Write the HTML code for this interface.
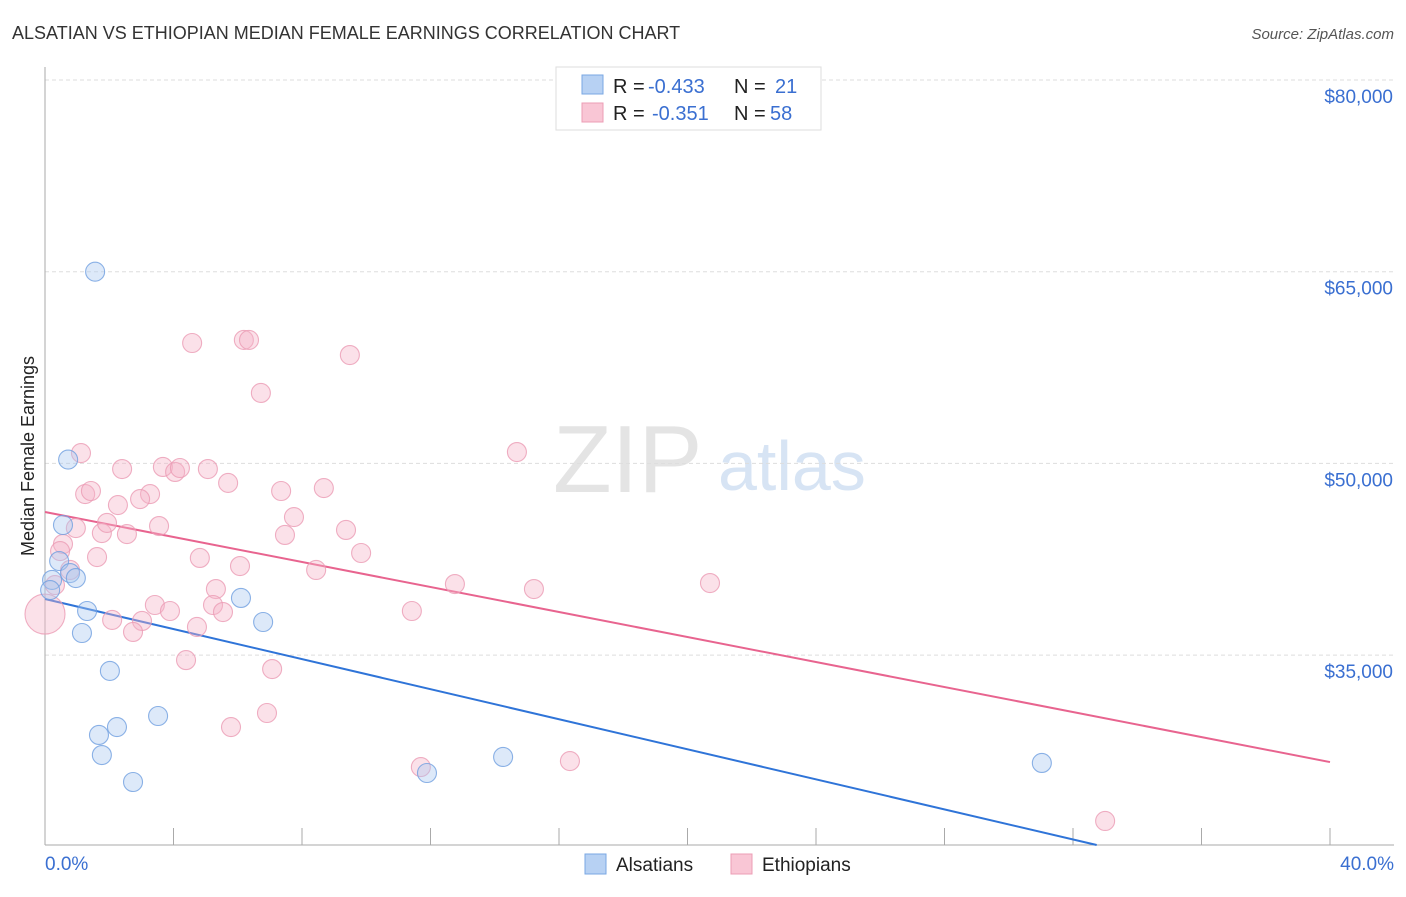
<!DOCTYPE html>
<html><head><meta charset="utf-8"><style>
body{margin:0;background:#fff;font-family:"Liberation Sans",sans-serif;}
svg text{font-family:"Liberation Sans",sans-serif;}
</style></head><body>
<svg id="chart" width="1406" height="892" viewBox="0 0 1406 892" xmlns="http://www.w3.org/2000/svg">
<text x="12" y="39" font-size="18" fill="#333">ALSATIAN VS ETHIOPIAN MEDIAN FEMALE EARNINGS CORRELATION CHART</text>
<text x="1394" y="39" font-size="15" fill="#555" font-style="italic" text-anchor="end">Source: ZipAtlas.com</text>
<g>
<text x="553" y="492" font-size="96" fill="#e4e4e4" font-family="Liberation Serif, serif">ZIP</text>
<text x="718" y="490" font-size="70" fill="#d7e4f4">atlas</text>
</g>
<g id="grid"></g>
<g id="axes"></g>
<g id="lines"></g>
<g id="points"></g>
<text transform="translate(34,456) rotate(-90)" font-size="18" fill="#222" text-anchor="middle">Median Female Earnings</text>
<g>
<rect x="556" y="67" width="265" height="63" fill="#fff" stroke="#ddd"/>
<rect x="582" y="75" width="21" height="19" fill="#b7d1f3" stroke="#7aa7e3"/>
<rect x="582" y="103" width="21" height="19" fill="#f9c6d5" stroke="#ec9db5"/>
<text x="613" y="93" font-size="20" fill="#222">R =</text>
<text x="648" y="93" font-size="20" fill="#3a6fd1">-0.433</text>
<text x="734" y="93" font-size="20" fill="#222">N =</text>
<text x="775" y="93" font-size="20" fill="#3a6fd1">21</text>
<text x="613" y="120" font-size="20" fill="#222">R =</text>
<text x="652" y="120" font-size="20" fill="#3a6fd1">-0.351</text>
<text x="734" y="120" font-size="20" fill="#222">N =</text>
<text x="770" y="120" font-size="20" fill="#3a6fd1">58</text>
</g>
<g>
<rect x="585" y="854" width="21" height="20" fill="#b7d1f3" stroke="#7aa7e3"/>
<text x="616" y="871" font-size="19" fill="#222">Alsatians</text>
<rect x="731" y="854" width="21" height="20" fill="#f9c6d5" stroke="#ec9db5"/>
<text x="762" y="871" font-size="19" fill="#222">Ethiopians</text>
</g>
</svg>
<script>
const yTicks=[80000,65000,50000,35000];
const xTickLabels=["0.0%","40.0%"];
const alsX=[1.56,0.72,0.56,0.44,0.22,0.16,0.78,0.96,1.31,1.15,2.02,2.24,1.68,1.77,2.74,3.52,6.10,6.79,11.89,14.26,31.03];
const alsY=[65000,50300,45180,42360,40880,40090,41420,41030,38450,36730,33760,29370,28750,27180,25070,30235,39470,37590,25775,27030,26560];
const ethX=[0,1.12,2.40,3.67,4.05,4.20,5.07,4.58,6.19,6.35,6.72,9.49,14.69,1.25,1.43,3.27,2.96,2.27,5.70,7.35,8.68,0.96,1.77,1.93,2.55,3.55,0.56,0.47,1.62,4.82,6.07,7.47,7.75,9.37,9.84,8.44,12.76,15.22,20.70,5.32,5.23,5.54,3.42,3.89,2.09,3.02,2.74,4.73,11.42,4.39,7.07,5.79,6.91,11.70,16.34,33.00,0.78,0.31];
const ethY=[38210,50810,49560,49720,49330,49640,49560,59420,59660,59660,55510,58480,50890,47600,47840,47600,47210,46740,48470,47840,48070,44940,44550,45340,44470,45100,43690,43140,42670,42600,41970,44400,45800,44790,42990,41660,40560,40170,40640,40170,38920,38370,38920,38450,37750,37670,36810,37200,38450,34610,33910,29370,30470,26240,26710,22020,41660,40480];
const alsTrend=[39390,15870];
const ethTrend=[46200,26630];
const X0=45,X1=1330,YB=845;
function sx(p){return X0+(p/40)*(X1-X0);}
function sy(v){return 80+(80000-v)*(191.7/15000);}
const NS="http://www.w3.org/2000/svg";
function mk(tag,attrs,parent){const e=document.createElementNS(NS,tag);for(const k in attrs)e.setAttribute(k,attrs[k]);parent.appendChild(e);return e;}
const grid=document.getElementById('grid'),axes=document.getElementById('axes'),lines=document.getElementById('lines'),pts=document.getElementById('points');
yTicks.forEach(v=>{
 const l=mk('line',{x1:X0,x2:1394,y1:sy(v),y2:sy(v),stroke:'#ddd','stroke-dasharray':'4,3'},grid);
 
 
 const t=mk('text',{x:1393,y:sy(v)+23,'font-size':19,fill:'#3a6fd1','text-anchor':'end'},grid);
 t.textContent='$'+v.toLocaleString('en-US');
 
 
});
const ya=mk('line',{x1:X0,x2:X0,y1:67,y2:YB,stroke:'#aaa'},axes);


const xa=mk('line',{x1:X0,x2:1394,y1:YB,y2:YB,stroke:'#aaa'},axes);


for(let i=0;i<=10;i++){
 const tk=mk('line',{x1:sx(i*4),x2:sx(i*4),y1:828,y2:YB,stroke:'#aaa'},axes);
 
 
}
const xl0=mk('text',{x:45,y:870,'font-size':19,fill:'#3a6fd1'},axes);xl0.textContent=xTickLabels[0];


const xl1=mk('text',{x:1394,y:870,'font-size':19,fill:'#3a6fd1','text-anchor':'end'},axes);xl1.textContent=xTickLabels[1];


function dots(xs,ys,fill,stroke,name){
 xs.forEach((x,i)=>{
  const big=(name==='ethiopian-point'&&x===0);
  const c=mk('circle',{cx:sx(x),cy:sy(ys[i]),r:big?20:9.5,fill:fill,'fill-opacity':0.4,stroke:stroke,'stroke-opacity':0.8,'stroke-width':1.1},pts);
  
  
 });
}
dots(ethX,ethY,'#f5b3c7','#eb9bb4','ethiopian-point');
dots(alsX,alsY,'#a9c8f0','#6f9fe0','alsatian-point');
function trend(tr,color,name){
 let x2=40,v2=tr[1];
 const vb=80000-(YB-80)/(191.7/15000);
 if(v2<vb){x2=40*(tr[0]-vb)/(tr[0]-tr[1]);v2=vb;}
 const l=mk('line',{x1:sx(0),y1:sy(tr[0]),x2:sx(x2),y2:sy(v2),stroke:color,'stroke-width':2},lines);
 
 
}
trend(ethTrend,'#e8648f','ethiopian-trend-line');
trend(alsTrend,'#2f74d8','alsatian-trend-line');
</script>
</body></html>
